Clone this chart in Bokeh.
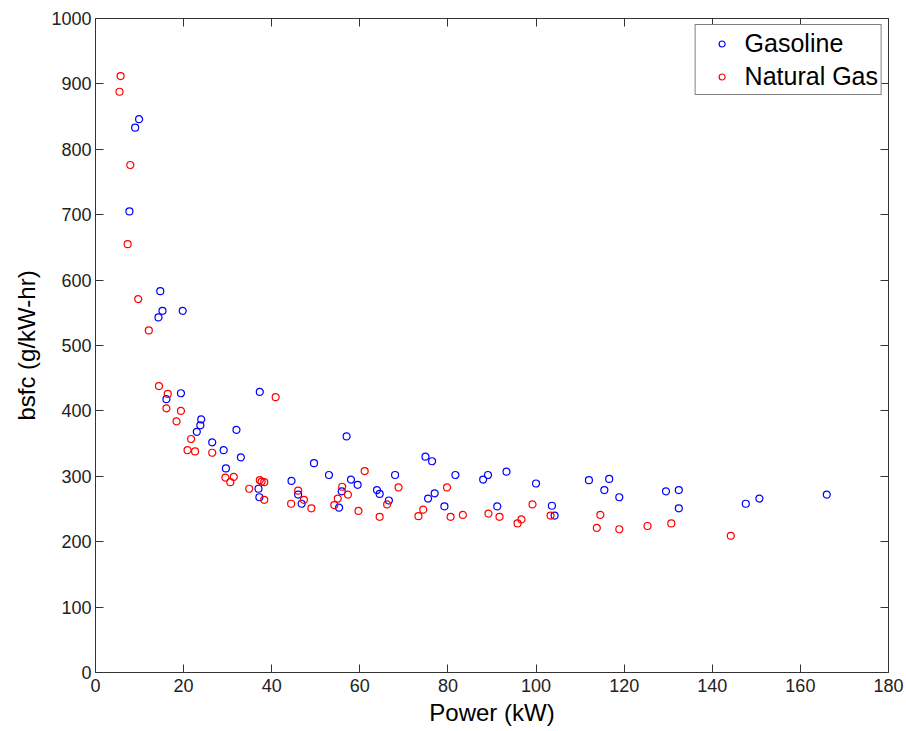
from bokeh.plotting import figure
from bokeh.models import LinearAxis, Range1d, Legend, LegendItem, FixedTicker
from bokeh.embed import file_html
from bokeh.resources import INLINE

gas_power = [9.9, 9.0, 7.7, 14.7, 15.2, 14.3, 19.8, 19.4, 16.1, 24.0, 23.8, 23.0, 32.0, 26.5,
             29.1, 33.0, 29.6, 37.3, 37.0, 37.2, 44.5, 46.0, 46.8, 49.6, 53.0, 57.0, 58.0, 59.5,
             55.9, 55.3, 63.9, 64.5, 66.6, 68.0, 74.9, 76.4, 81.7, 77.0, 75.5, 79.2, 88.0, 89.1,
             91.2, 93.3, 100.0, 103.6, 104.2, 112.0, 116.6, 115.5, 118.9, 129.5, 132.4, 132.4,
             147.6, 150.7, 166.0]
gas_bsfc = [846, 833, 705, 583, 553, 543, 553, 427, 418, 387, 378, 368, 371, 352,
            340, 329, 312, 429, 281, 268, 293, 272, 258, 320, 302, 361, 295, 287,
            277, 252, 279, 273, 263, 302, 330, 323, 302, 274, 266, 254, 295, 302,
            254, 307, 289, 255, 240, 294, 296, 279, 268, 277, 279, 251,
            258, 266, 272]

ng_power = [5.7, 5.45, 7.9, 7.3, 9.7, 12.1, 14.4, 16.4, 16.1, 19.4, 18.4, 21.7, 20.9, 22.6,
            26.5, 29.5, 31.4, 30.6, 40.9, 34.9, 37.3, 37.7, 38.3, 38.3, 44.4, 46.0, 47.3, 49.0,
            61.1, 56.0, 57.3, 55.0, 54.2, 59.7, 66.2, 64.5, 68.8, 79.8, 74.4, 73.3, 80.6, 83.4,
            89.2, 91.7, 99.2, 95.8, 96.7, 103.3, 114.6, 113.8, 118.9, 125.3, 130.7, 144.2]
ng_bsfc = [912, 888, 776, 655, 571, 523, 438, 426, 404, 400, 384, 357, 340, 338,
           336, 298, 299, 291, 421, 281, 294, 292, 291, 264, 258, 278, 264, 251,
           308, 284, 272, 266, 256, 247, 257, 238, 283, 283, 249, 239, 238, 241,
           243, 238, 257, 228, 234, 240, 241, 221, 219, 224, 228, 209]

x_ticks = list(range(0, 181, 20))
y_ticks = list(range(0, 1001, 100))

FONT = "Liberation Sans"
AX = "#333333"

p = figure(width=906, height=731, output_backend="svg", toolbar_location=None,
           x_range=Range1d(0, 180), y_range=Range1d(0, 1000),
           min_border_left=95, min_border_right=18, min_border_top=18, min_border_bottom=59,
           x_axis_label="Power (kW)", y_axis_label="bsfc (g/kW-hr)")
p.xgrid.visible = False
p.ygrid.visible = False
p.outline_line_color = None
p.background_fill_color = "white"
p.border_fill_color = "white"

for ax, ticks in ((p.xaxis[0], x_ticks), (p.yaxis[0], y_ticks)):
    ax.ticker = FixedTicker(ticks=ticks)
    ax.major_tick_in = 8
    ax.major_tick_out = 0
    ax.minor_tick_line_color = None
    ax.axis_line_color = AX
    ax.major_tick_line_color = AX
    ax.major_label_text_font = FONT
    ax.major_label_text_font_size = "18px"
    ax.major_label_text_color = "#222222"
    ax.axis_label_text_font = FONT
    ax.axis_label_text_font_size = "24px"
    ax.axis_label_text_font_style = "normal"
    ax.axis_label_text_color = "black"
p.xaxis[0].major_label_standoff = 6
p.yaxis[0].major_label_standoff = 4
p.xaxis[0].axis_label_standoff = 4
p.yaxis[0].axis_label_standoff = 8

top = LinearAxis(ticker=FixedTicker(ticks=x_ticks), major_tick_in=8, major_tick_out=0,
                 minor_tick_line_color=None, axis_line_color=AX, major_tick_line_color=AX,
                 major_label_text_color=None, major_label_text_font_size="1px")
right = LinearAxis(ticker=FixedTicker(ticks=y_ticks), major_tick_in=8, major_tick_out=0,
                   minor_tick_line_color=None, axis_line_color=AX, major_tick_line_color=AX,
                   major_label_text_color=None, major_label_text_font_size="1px")
p.add_layout(top, "above")
p.add_layout(right, "right")

r1 = p.scatter(gas_power, gas_bsfc, marker="circle", size=7, fill_color=None,
               line_color="#0000ff", line_width=1.2)
r2 = p.scatter(ng_power, ng_bsfc, marker="circle", size=7, fill_color=None,
               line_color="#ff0000", line_width=1.2)

legend = Legend(items=[LegendItem(label="Gasoline", renderers=[r1]),
                       LegendItem(label="Natural Gas", renderers=[r2])],
                location="top_right", margin=6, padding=3, spacing=3,
                glyph_width=46, glyph_height=15, label_height=30, label_standoff=0,
                label_text_font=FONT, label_text_font_size="25px", label_text_color="black",
                border_line_color="black", border_line_width=1,
                background_fill_color="white", background_fill_alpha=1.0)
p.add_layout(legend, "center")

open("out.html", "w").write(file_html(p, INLINE))
